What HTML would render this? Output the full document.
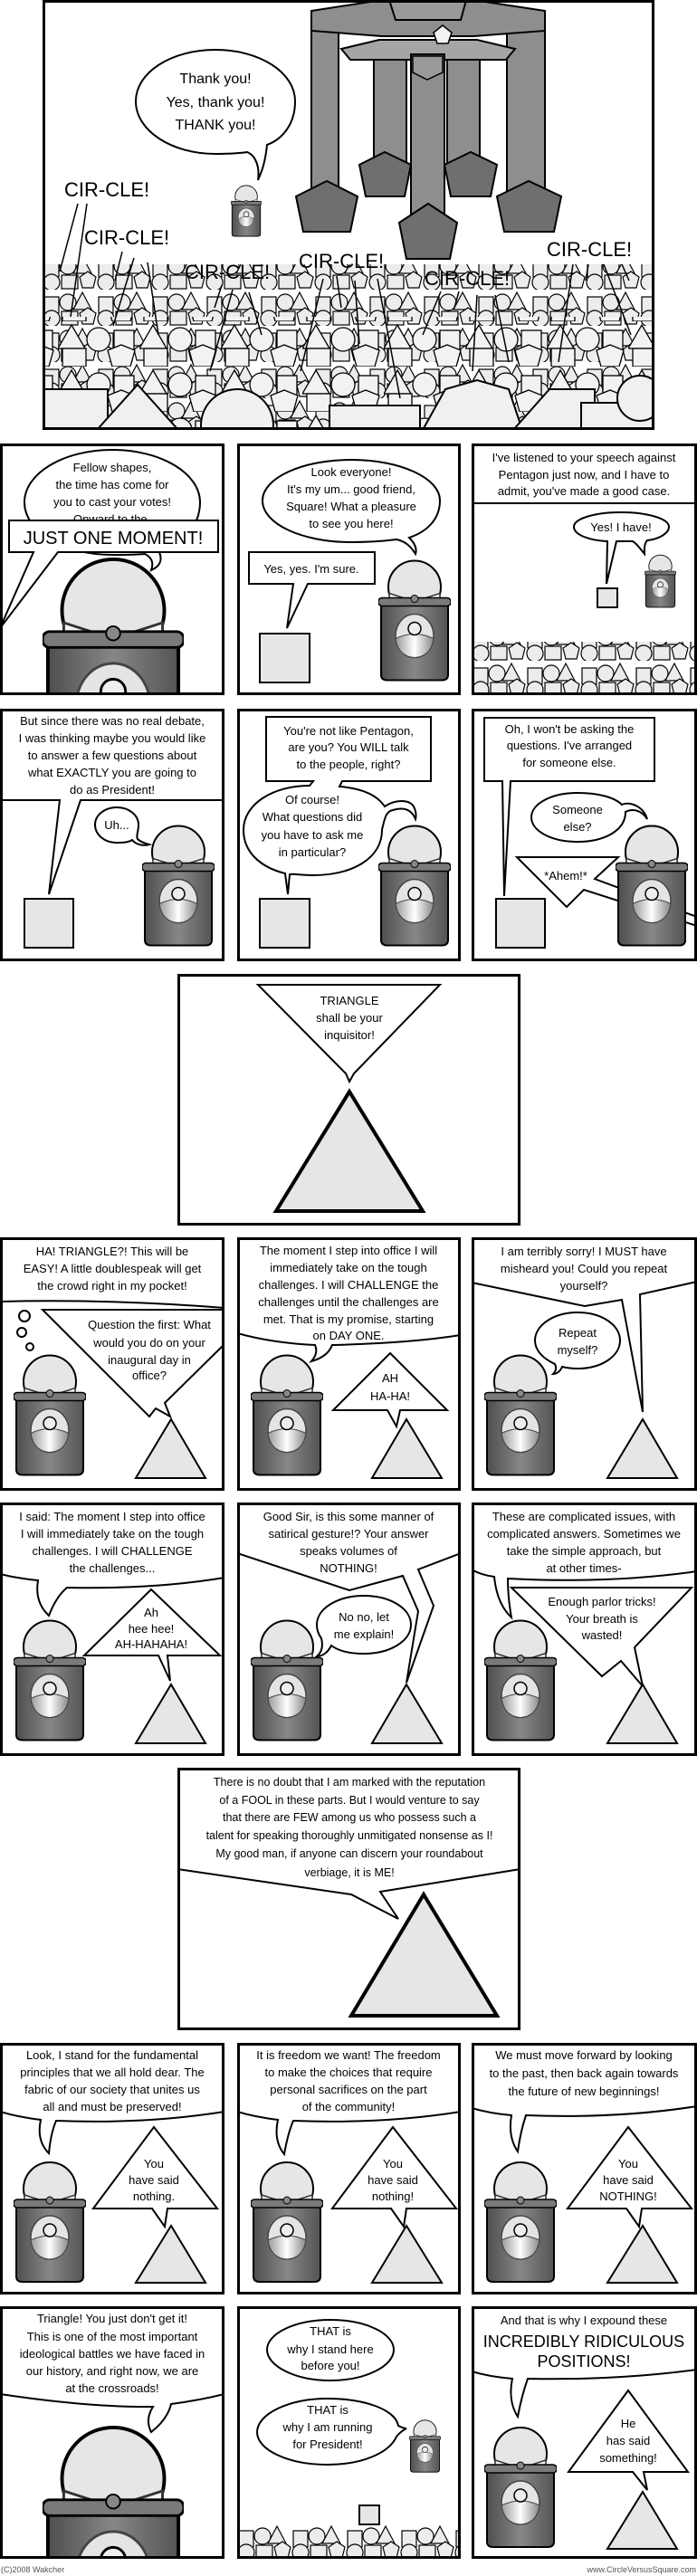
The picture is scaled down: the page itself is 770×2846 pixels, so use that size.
<!DOCTYPE html>
<html><head><meta charset="utf-8"><style>
html,body{margin:0;padding:0;background:#fff;}
svg{display:block;}
text{font-family:"Liberation Sans",sans-serif;fill:#000;}
.t{font-size:13px;text-anchor:middle;}
.s{font-size:12.5px;text-anchor:middle;}
.c{font-size:22px;}
.b{fill:#fff;stroke:#000;stroke-width:2;}
.f{fill:none;stroke:#000;stroke-width:2;}
.bd{fill:none;stroke:#000;stroke-width:3;}
.sq{fill:#e6e6e6;stroke:#000;stroke-width:2;}
.tr{fill:#e6e6e6;stroke:#000;stroke-width:2;}
.rb{fill:#8e8e8e;stroke:#000;stroke-width:2;}
.rf{fill:#6f6f6f;stroke:#000;stroke-width:2;}
</style></head><body>
<svg width="770" height="2846" viewBox="0 0 770 2846" xmlns="http://www.w3.org/2000/svg">
<defs>
<linearGradient id="wood" x1="0" y1="0" x2="1" y2="0">
<stop offset="0" stop-color="#4e4e4e"/><stop offset="0.5" stop-color="#878787"/><stop offset="1" stop-color="#545454"/>
</linearGradient>
<linearGradient id="emb" x1="0" y1="0" x2="1" y2="0">
<stop offset="0" stop-color="#999"/><stop offset="0.5" stop-color="#fff"/><stop offset="1" stop-color="#888"/>
</linearGradient>
<symbol id="pod" viewBox="0 0 80 136">
<circle cx="40" cy="31" r="29" fill="#e6e6e6" stroke="#000" stroke-width="2"/>
<path d="M12 38 L40 47 L68 38 L68 47 L40 56 L12 47 Z" fill="#f4f4f4" stroke="#333" stroke-width="1.5"/>
<path d="M3 48 L77 48 L77 128 Q77 134 70 134 L10 134 Q3 134 3 128 Z" fill="url(#wood)" stroke="#000" stroke-width="2"/>
<rect x="0" y="43" width="80" height="9" rx="4" fill="#7a7a7a" stroke="#000" stroke-width="1.5"/>
<circle cx="40" cy="44" r="4" fill="#888" stroke="#000" stroke-width="1"/>
<ellipse cx="40" cy="85" rx="21" ry="24" fill="#e4e4e4" stroke="#444" stroke-width="1.5"/>
<path d="M19 88 Q40 78 61 88 Q58 108 40 109 Q22 108 19 88 Z" fill="url(#emb)" stroke="#444" stroke-width="1"/>
<circle cx="40" cy="77" r="7" fill="#eee" stroke="#000" stroke-width="1.5"/>
</symbol>
<pattern id="crowd" width="60" height="40" patternUnits="userSpaceOnUse">
<g fill="#ececec" stroke="#000" stroke-width="1.2">
<rect x="2" y="8" width="16" height="18"/>
<circle cx="28" cy="14" r="9"/>
<polygon points="44,3 54,22 34,22"/>
<circle cx="10" cy="32" r="9"/>
<rect x="21" y="24" width="18" height="15"/>
<polygon points="50,20 59,26 56,38 44,38 41,26"/>
</g>
</pattern>
<pattern id="crowd2" width="90" height="50" patternUnits="userSpaceOnUse" x="17" y="5">
<g fill="#f2f2f2" stroke="#000" stroke-width="1.3">
<polygon points="15,4 30,30 0,30"/>
<circle cx="45" cy="20" r="13"/>
<rect x="62" y="10" width="22" height="22"/>
<rect x="5" y="30" width="26" height="20"/>
<polygon points="55,32 70,26 85,32 80,50 60,50"/>
</g>
</pattern>
</defs>

<!-- TOP PANEL -->
<svg x="47" y="0" width="676" height="475">
<rect x="0" y="0" width="676" height="475" fill="#fff"/>
<!-- robot -->
<rect class="rb" x="297" y="12" width="30" height="205"/>
<rect class="rb" x="513" y="12" width="42" height="205"/>
<polygon class="rb" points="297,12 375,0 476,0 555,12 555,34 476,40 375,40 297,34"/>
<polygon fill="#9a9a9a" stroke="#000" stroke-width="2" points="383,0 468,0 462,22 390,22"/>
<rect class="rb" x="366" y="58" width="36" height="135"/>
<rect class="rb" x="447" y="58" width="36" height="135"/>
<polygon class="rf" points="350,182 378,168 407,182 400,217 357,217"/>
<polygon class="rf" points="444,182 473,168 502,182 495,217 451,217"/>
<polygon fill="#a5a5a5" stroke="#000" stroke-width="2" points="330,54 372,44 480,44 522,54 512,66 340,66"/>
<polygon fill="#f2f2f2" stroke="#000" stroke-width="1.5" points="442,28 452,36 448,48 436,48 432,36"/>
<polygon class="rf" points="280,217 314,200 348,217 340,256 288,256"/>
<polygon class="rf" points="502,217 537,200 573,217 565,256 510,256"/>
<rect class="rb" x="407" y="60" width="37" height="205"/>
<polygon fill="#9a9a9a" stroke="#000" stroke-width="1.5" points="409,62 442,62 442,80 425,88 409,80"/>
<polygon class="rf" points="394,246 426,225 458,246 450,286 402,286"/>
<!-- bubble -->
<path class="b" d="M191 55 C240 55 279 80 279 112 C279 140 262 155 248 160 C246 180 242 190 238 199 C240 185 236 172 226 168 C214 170 202 170 191 170 C142 170 103 144 103 112 C103 80 142 55 191 55 Z"/>
<text x="191" y="92" style="font-size:16px;text-anchor:middle;">Thank you!</text>
<text x="191" y="118" style="font-size:16px;text-anchor:middle;">Yes, thank you!</text>
<text x="191" y="143" style="font-size:16px;text-anchor:middle;">THANK you!</text>
<use href="#pod" x="208" y="204" width="34" height="58"/>
<!-- crowd -->
<rect x="0" y="292" width="676" height="183" fill="url(#crowd)"/>
<rect x="0" y="350" width="676" height="125" fill="url(#crowd2)"/>
<g fill="#f0f0f0" stroke="#000" stroke-width="2">
<rect x="2" y="430" width="70" height="45"/>
<polygon points="60,475 105,425 150,475"/>
<circle cx="215" cy="470" r="40"/>
<rect x="317" y="448" width="100" height="30"/>
<polygon points="420,475 445,430 480,420 515,430 530,475"/>
<polygon points="520,475 560,430 610,430 610,475"/>
<rect x="595" y="445" width="81" height="30"/>
<circle cx="660" cy="440" r="25"/>
</g>
<!-- crowd lines -->
<g stroke="#000" stroke-width="1.5" fill="none">
<line x1="39" y1="225" x2="19" y2="300"/><line x1="49" y1="225" x2="31" y2="350"/>
<line x1="88" y1="278" x2="80" y2="310"/><line x1="101" y1="285" x2="78" y2="360"/><line x1="116" y1="290" x2="128" y2="370"/>
<line x1="198" y1="315" x2="190" y2="340"/><line x1="210" y1="320" x2="185" y2="410"/><line x1="228" y1="323" x2="242" y2="370"/>
<line x1="310" y1="308" x2="285" y2="410"/><line x1="325" y1="305" x2="330" y2="340"/><line x1="345" y1="310" x2="350" y2="380"/><line x1="370" y1="308" x2="395" y2="440"/>
<line x1="440" y1="322" x2="420" y2="370"/><line x1="460" y1="322" x2="455" y2="340"/><line x1="480" y1="326" x2="475" y2="410"/><line x1="500" y1="326" x2="515" y2="400"/>
<line x1="586" y1="292" x2="570" y2="400"/><line x1="603" y1="292" x2="600" y2="310"/><line x1="620" y1="292" x2="650" y2="370"/><line x1="640" y1="292" x2="648" y2="310"/>
</g>
<text class="c" x="24" y="217">CIR-CLE!</text>
<text class="c" x="46" y="270">CIR-CLE!</text>
<text class="c" x="157" y="308">CIR-CLE!</text>
<text class="c" x="283" y="296">CIR-CLE!</text>
<text class="c" x="422" y="315">CIR-CLE!</text>
<text class="c" x="557" y="283">CIR-CLE!</text>
</svg>
<rect class="bd" x="48.5" y="1.5" width="673" height="472"/>

<!-- ROW 2 -->
<svg x="0" y="490" width="248" height="278">
<path class="b" d="M124 7 C178 7 221 33 221 65 C221 95 195 115 176 120 C180 130 176 136 167 140 C170 132 168 126 160 122 C148 123 136 123 124 123 C70 123 27 97 27 65 C27 33 70 7 124 7 Z"/>
<text class="t" x="124" y="31">Fellow shapes,</text>
<text class="t" x="124" y="50">the time has come for</text>
<text class="t" x="124" y="69">you to cast your votes!</text>
<text class="t" x="124" y="88">Onward to the-</text>
<use href="#pod" x="47" y="124" width="156" height="265"/>
<path class="b" d="M10 85 L241 85 L241 120 L64 120 L0 204 L37 120 L10 120 Z"/>
<text x="125" y="111" style="font-size:20px;text-anchor:middle;">JUST ONE MOMENT!</text>
</svg>
<rect class="bd" x="1.5" y="491.5" width="245" height="275"/>

<svg x="262" y="490" width="247" height="278">
<path class="b" d="M126 18 C180 18 224 38 224 63 C224 85 208 98 190 104 C196 110 199 116 197 122 C192 114 186 108 176 106 C160 108 143 109 126 109 C72 109 28 89 28 63 C28 38 72 18 126 18 Z"/>
<text class="t" x="126" y="36">Look everyone!</text>
<text class="t" x="126" y="55">It's my um... good friend,</text>
<text class="t" x="126" y="74">Square! What a pleasure</text>
<text class="t" x="126" y="93">to see you here!</text>
<path class="b" d="M13 120 L152 120 L152 155 L78 155 L55 204 L62 155 L13 155 Z"/>
<text class="t" x="82" y="143">Yes, yes. I'm sure.</text>
<rect class="sq" x="25" y="210" width="55" height="54"/>
<use href="#pod" x="156" y="127" width="80" height="137"/>
</svg>
<rect class="bd" x="263.5" y="491.5" width="244" height="275"/>

<svg x="521" y="490" width="249" height="278">
<line x1="0" y1="66" x2="249" y2="66" stroke="#000" stroke-width="2"/>
<text class="t" x="124" y="20">I've listened to your speech against</text>
<text class="t" x="124" y="39">Pentagon just now, and I have to</text>
<text class="t" x="124" y="57">admit, you've made a good case.</text>
<path class="b" d="M165 76 C194 76 218 83 218 92 C218 100 205 106 194 107 C190 112 191 118 191 122 C186 116 183 111 178 108 L160 108 L149 155 L150 108 C130 107 113 101 113 92 C113 83 136 76 165 76 Z"/>
<text class="t" x="165" y="97">Yes! I have!</text>
<rect class="sq" x="139" y="160" width="22" height="21"/>
<use href="#pod" x="191" y="122" width="35" height="60"/>
<rect x="0" y="219" width="249" height="60" fill="url(#crowd)" transform=""/>
</svg>
<rect class="bd" x="522.5" y="491.5" width="246" height="275"/>

<!-- ROW 3 -->
<svg x="0" y="783" width="248" height="279">
<path class="b" d="M0 0 L248 0 L248 101 L89 101 L54 205 L66 101 L0 101 Z"/>
<text class="t" x="124" y="18">But since there was no real debate,</text>
<text class="t" x="124" y="37">I was thinking maybe you would like</text>
<text class="t" x="124" y="56">to answer a few questions about</text>
<text class="t" x="124" y="75">what EXACTLY you are going to</text>
<text class="t" x="124" y="94">do as President!</text>
<path class="b" d="M129 109 C143 109 153 118 153 128 C153 136 150 141 152 144 C156 148 162 149 165 150 C158 152 150 150 146 145 C141 148 135 148 129 148 C115 148 105 139 105 128 C105 118 115 109 129 109 Z"/>
<text class="t" x="129" y="133">Uh...</text>
<rect class="sq" x="27" y="210" width="54" height="54"/>
<use href="#pod" x="157" y="127" width="80" height="137"/>
</svg>
<rect class="bd" x="1.5" y="784.5" width="245" height="276"/>

<svg x="262" y="783" width="247" height="279">
<path class="b" d="M32 9 L214 9 L214 80 L116 80 L113 86 C140 88 155 96 163 108 C175 100 190 100 195 108 C198 114 198 118 197 122 C193 112 185 108 172 112 C165 113 163 120 160 134 C160 165 128 184 83 184 C70 184 62 182 58 183 L56 205 L53 182 C25 175 7 158 7 134 C7 105 40 85 80 85 L84 80 L32 80 Z"/>
<text class="t" x="123" y="29">You're not like Pentagon,</text>
<text class="t" x="123" y="47">are you? You WILL talk</text>
<text class="t" x="123" y="66">to the people, right?</text>
<text class="t" x="83" y="105">Of course!</text>
<text class="t" x="83" y="124">What questions did</text>
<text class="t" x="83" y="144">you have to ask me</text>
<text class="t" x="83" y="163">in particular?</text>
<rect class="sq" x="25" y="210" width="55" height="54"/>
<use href="#pod" x="156" y="127" width="80" height="137"/>
</svg>
<rect class="bd" x="263.5" y="784.5" width="244" height="276"/>

<svg x="521" y="783" width="249" height="279">
<path class="b" d="M14 10 L202 10 L202 80 L43 80 L36 207 L34 80 L14 80 Z"/>
<text class="t" x="108" y="27">Oh, I won't be asking the</text>
<text class="t" x="108" y="45">questions. I've arranged</text>
<text class="t" x="108" y="64">for someone else.</text>
<path class="b" d="M117 93 C140 93 158 98 166 106 C175 102 190 108 194 122 C188 112 178 110 170 114 C170 135 146 147 117 147 C88 147 66 135 66 120 C66 105 88 93 117 93 Z"/>
<text class="t" x="117" y="116">Someone</text>
<text class="t" x="117" y="135">else?</text>
<rect class="sq" x="27" y="210" width="54" height="54"/>
<use href="#pod" x="159" y="127" width="80" height="137"/>
<path class="b" d="M50 164 L162 164 L136 188 L249 230 L249 240 L124 200 L105 219 Z"/>
<use href="#pod" x="159" y="127" width="80" height="137" clip-path=""/>
<text class="t" x="104" y="189">*Ahem!*</text>
</svg>
<rect class="bd" x="522.5" y="784.5" width="246" height="276"/>

<!-- TRIANGLE PANEL -->
<svg x="196" y="1076" width="379" height="278">
<path class="b" d="M89 12 L290 12 L195 110 L190 119 L186 110 Z"/>
<text class="t" x="190" y="34">TRIANGLE</text>
<text class="t" x="190" y="53">shall be your</text>
<text class="t" x="190" y="72">inquisitor!</text>
<polygon class="tr" style="stroke-width:4" points="190,130 271,262 109,262"/>
</svg>
<rect class="bd" x="197.5" y="1077.5" width="376" height="275"/>

<!-- ROW 5 -->
<svg x="0" y="1367" width="248" height="280">
<path class="b" d="M0 0 L248 0 L248 78 Q120 68 0 71 Z"/>
<text class="t" x="124" y="20">HA! TRIANGLE?! This will be</text>
<text class="t" x="124" y="39">EASY! A little doublespeak will get</text>
<text class="t" x="124" y="58">the crowd right in my pocket!</text>
<circle class="b" cx="27" cy="87" r="6"/><circle class="b" cx="24" cy="105" r="5"/><circle class="b" cx="33" cy="121" r="4"/>
<path class="b" d="M47 80 L248 80 L248 118 L182 183 L188 198 L172 189 L165 198 Z"/>
<text class="t" x="165" y="101">Question the first: What</text>
<text class="t" x="165" y="121">would you do on your</text>
<text class="t" x="165" y="140">inaugural day in</text>
<text class="t" x="165" y="157">office?</text>
<use href="#pod" x="15" y="128" width="80" height="137"/>
<polygon class="tr" points="189,201 227,266 150,266"/>
</svg>
<rect class="bd" x="1.5" y="1368.5" width="245" height="277"/>

<svg x="262" y="1367" width="247" height="280">
<path class="b" d="M0 0 L247 0 L247 108 Q190 117 105 119 Q100 132 82 137 Q90 128 86 119 Q40 117 0 106 Z"/>
<text class="t" x="123" y="19">The moment I step into office I will</text>
<text class="t" x="123" y="38">immediately take on the tough</text>
<text class="t" x="123" y="57">challenges. I will CHALLENGE the</text>
<text class="t" x="123" y="76">challenges until the challenges are</text>
<text class="t" x="123" y="95">met. That is my promise, starting</text>
<text class="t" x="123" y="113">on DAY ONE.</text>
<path class="b" d="M169 128 L232 191 L180 191 L176 209 L166 191 L106 191 Z"/>
<text class="t" x="169" y="160">AH</text>
<text class="t" x="169" y="180">HA-HA!</text>
<use href="#pod" x="15" y="128" width="80" height="137"/>
<polygon class="tr" points="187,201 226,266 149,266"/>
</svg>
<rect class="bd" x="263.5" y="1368.5" width="244" height="277"/>

<svg x="521" y="1367" width="249" height="280">
<path class="b" d="M0 0 L249 0 L249 49 L186 63 L189 193 L166 69 L125 76 L0 50 Z"/>
<text class="t" x="124" y="20">I am terribly sorry! I MUST have</text>
<text class="t" x="124" y="39">misheard you! Could you repeat</text>
<text class="t" x="124" y="58">yourself?</text>
<path class="b" d="M117 83 C144 83 164 97 164 114 C164 131 144 145 117 145 C112 145 104 144 100 143 C98 148 94 151 90 151 C93 148 94 144 92 140 C79 134 70 125 70 114 C70 97 91 83 117 83 Z"/>
<text class="t" x="117" y="110">Repeat</text>
<text class="t" x="117" y="129">myself?</text>
<use href="#pod" x="14" y="128" width="80" height="137"/>
<polygon class="tr" points="189,201 227,266 150,266"/>
</svg>
<rect class="bd" x="522.5" y="1368.5" width="246" height="277"/>

<!-- ROW 6 -->
<svg x="0" y="1660" width="248" height="280">
<path class="b" d="M0 0 L248 0 L248 83 Q170 96 74 94 Q62 104 54 125 Q38 110 42 86 Q20 84 0 79 Z"/>
<text class="t" x="124" y="20">I said: The moment I step into office</text>
<text class="t" x="124" y="39">I will immediately take on the tough</text>
<text class="t" x="124" y="58">challenges. I will CHALLENGE</text>
<text class="t" x="124" y="77">the challenges...</text>
<path class="b" d="M167 96 L243 169 L185 169 L188 197 L175 169 L93 169 Z"/>
<text class="t" x="167" y="126">Ah</text>
<text class="t" x="167" y="144">hee hee!</text>
<text class="t" x="167" y="161">AH-HAHAHA!</text>
<use href="#pod" x="15" y="128" width="80" height="137"/>
<polygon class="tr" points="189,201 227,266 150,266"/>
</svg>
<rect class="bd" x="1.5" y="1661.5" width="245" height="277"/>

<svg x="262" y="1660" width="247" height="280">
<path class="b" d="M0 0 L247 0 L247 56 L200 74 L217 114 L187 199 L200 120 L183 81 L124 97 L0 56 Z"/>
<text class="t" x="123" y="20">Good Sir, is this some manner of</text>
<text class="t" x="123" y="39">satirical gesture!? Your answer</text>
<text class="t" x="123" y="58">speaks volumes of</text>
<text class="t" x="123" y="77">NOTHING!</text>
<path class="b" d="M140 103 C169 103 192 117 192 135 C192 153 169 167 140 167 C125 167 112 164 104 158 C100 166 94 170 88 170 C94 165 95 158 93 150 C90 146 88 141 88 135 C88 117 111 103 140 103 Z"/>
<text class="t" x="140" y="131">No no, let</text>
<text class="t" x="140" y="150">me explain!</text>
<use href="#pod" x="15" y="128" width="80" height="137"/>
<polygon class="tr" points="187,201 226,266 149,266"/>
</svg>
<rect class="bd" x="263.5" y="1661.5" width="244" height="277"/>

<svg x="521" y="1660" width="249" height="280">
<path class="b" d="M0 0 L249 0 L249 76 Q150 90 40 84 Q40 105 44 127 Q28 112 25 82 Q10 80 0 74 Z"/>
<text class="t" x="124" y="20">These are complicated issues, with</text>
<text class="t" x="124" y="39">complicated answers. Sometimes we</text>
<text class="t" x="124" y="58">take the simple approach, but</text>
<text class="t" x="124" y="77">at other times-</text>
<path class="b" d="M44 94 L243 94 L180 160 L189 203 L165 175 L144 192 Z"/>
<text class="t" x="144" y="114">Enough parlor tricks!</text>
<text class="t" x="144" y="133">Your breath is</text>
<text class="t" x="144" y="151">wasted!</text>
<use href="#pod" x="14" y="128" width="80" height="137"/>
<polygon class="tr" points="189,201 227,266 150,266"/>
</svg>
<rect class="bd" x="522.5" y="1661.5" width="246" height="277"/>

<!-- BIG PANEL -->
<svg x="196" y="1953" width="379" height="290">
<path class="b" d="M0 0 L379 0 L379 112 L224 137 L244 167 L192 140 L0 112 Z"/>
<text class="s" x="190" y="20">There is no doubt that I am marked with the reputation</text>
<text class="s" x="190" y="40">of a FOOL in these parts. But I would venture to say</text>
<text class="s" x="190" y="59">that there are FEW among us who possess such a</text>
<text class="s" x="190" y="79">talent for speaking thoroughly unmitigated nonsense as I!</text>
<text class="s" x="190" y="99">My good man, if anyone can discern your roundabout</text>
<text class="s" x="190" y="120">verbiage, it is ME!</text>
<polygon class="tr" style="stroke-width:4" points="272,140 353,274 192,274"/>
</svg>
<rect class="bd" x="197.5" y="1954.5" width="376" height="287"/>

<!-- ROW 8 -->
<svg x="0" y="2257" width="248" height="278">
<path class="b" d="M0 0 L248 0 L248 76 Q160 90 62 86 Q56 100 54 122 Q40 108 45 85 Q20 82 0 76 Z"/>
<text class="t" x="124" y="18">Look, I stand for the fundamental</text>
<text class="t" x="124" y="37">principles that we all hold dear. The</text>
<text class="t" x="124" y="56">fabric of our society that unites us</text>
<text class="t" x="124" y="75">all and must be preserved!</text>
<path class="b" d="M170 93 L240 183 L185 183 L182 203 L168 183 L103 183 Z"/>
<text class="t" x="170" y="138">You</text>
<text class="t" x="170" y="156">have said</text>
<text class="t" x="170" y="174">nothing.</text>
<use href="#pod" x="15" y="130" width="80" height="136"/>
<polygon class="tr" points="189,202 227,265 150,265"/>
</svg>
<rect class="bd" x="1.5" y="2258.5" width="245" height="275"/>

<svg x="262" y="2257" width="247" height="278">
<path class="b" d="M0 0 L247 0 L247 76 Q160 90 62 86 Q56 100 52 123 Q40 108 45 85 Q20 82 0 76 Z"/>
<text class="t" x="123" y="18">It is freedom we want! The freedom</text>
<text class="t" x="123" y="37">to make the choices that require</text>
<text class="t" x="123" y="56">personal sacrifices on the part</text>
<text class="t" x="123" y="75">of the community!</text>
<path class="b" d="M172 93 L242 183 L187 183 L184 203 L170 183 L105 183 Z"/>
<text class="t" x="172" y="138">You</text>
<text class="t" x="172" y="156">have said</text>
<text class="t" x="172" y="174">nothing!</text>
<use href="#pod" x="15" y="130" width="80" height="136"/>
<polygon class="tr" points="187,202 226,265 149,265"/>
</svg>
<rect class="bd" x="263.5" y="2258.5" width="244" height="275"/>

<svg x="521" y="2257" width="249" height="278">
<path class="b" d="M0 0 L249 0 L249 70 Q160 84 60 80 Q54 98 51 120 Q40 104 44 80 Q20 78 0 72 Z"/>
<text class="t" x="124" y="18">We must move forward by looking</text>
<text class="t" x="124" y="38">to the past, then back again towards</text>
<text class="t" x="124" y="58">the future of new beginnings!</text>
<path class="b" d="M173 93 L243 183 L188 183 L185 203 L171 183 L106 183 Z"/>
<text class="t" x="173" y="138">You</text>
<text class="t" x="173" y="156">have said</text>
<text class="t" x="173" y="174">NOTHING!</text>
<use href="#pod" x="14" y="130" width="80" height="136"/>
<polygon class="tr" points="189,202 227,265 150,265"/>
</svg>
<rect class="bd" x="522.5" y="2258.5" width="246" height="275"/>

<!-- ROW 9 -->
<svg x="0" y="2548" width="248" height="279">
<use href="#pod" x="47" y="130" width="156" height="265"/>
<path class="b" d="M0 0 L248 0 L248 97 Q220 104 189 108 Q185 125 167 139 Q160 125 169 111 Q100 112 0 97 Z"/>
<text class="t" x="124" y="18">Triangle! You just don't get it!</text>
<text class="t" x="124" y="38">This is one of the most important</text>
<text class="t" x="124" y="57">ideological battles we have faced in</text>
<text class="t" x="124" y="76">our history, and right now, we are</text>
<text class="t" x="124" y="95">at the crossroads!</text>
</svg>
<rect class="bd" x="1.5" y="2549.5" width="245" height="276"/>

<svg x="262" y="2548" width="247" height="279">
<path class="b" d="M103 15 C142 15 173 30 173 48 C173 66 142 82 103 82 C64 82 33 66 33 48 C33 30 64 15 103 15 Z"/>
<text class="t" x="103" y="32">THAT is</text>
<text class="t" x="103" y="52">why I stand here</text>
<text class="t" x="103" y="70">before you!</text>
<path class="b" d="M100 102 C143 102 175 115 178 132 C182 134 185 135 187 135 C183 137 180 139 176 144 C168 162 138 175 100 175 C57 175 22 159 22 139 C22 119 57 102 100 102 Z"/>
<text class="t" x="100" y="119">THAT is</text>
<text class="t" x="100" y="138">why I am running</text>
<text class="t" x="100" y="157">for President!</text>
<use href="#pod" x="190" y="125" width="35" height="59"/>
<rect class="sq" x="135" y="220" width="22" height="21"/>
<rect x="0" y="240" width="247" height="40" fill="url(#crowd)"/>
</svg>
<rect class="bd" x="263.5" y="2549.5" width="244" height="276"/>

<svg x="521" y="2548" width="249" height="279">
<path class="b" d="M0 0 L249 0 L249 70 Q160 82 62 80 Q55 100 51 122 Q40 105 45 80 Q20 78 0 72 Z"/>
<text class="t" x="124" y="20">And that is why I expound these</text>
<text x="124" y="45" style="font-size:18px;text-anchor:middle;">INCREDIBLY RIDICULOUS</text>
<text x="124" y="67" style="font-size:18px;text-anchor:middle;">POSITIONS!</text>
<path class="b" d="M173 93 L239 183 L190 183 L194 203 L178 183 L107 183 Z"/>
<text class="t" x="173" y="134">He</text>
<text class="t" x="173" y="153">has said</text>
<text class="t" x="173" y="172">something!</text>
<use href="#pod" x="14" y="132" width="80" height="136"/>
<polygon class="tr" points="189,205 227,268 150,268"/>
</svg>
<rect class="bd" x="522.5" y="2549.5" width="246" height="276"/>

<text x="1" y="2842" style="font-size:9px;fill:#555;">(C)2008 Wakcher</text>
<text x="769" y="2842" style="font-size:9px;fill:#555;text-anchor:end;">www.CircleVersusSquare.com</text>
</svg>
</body></html>
